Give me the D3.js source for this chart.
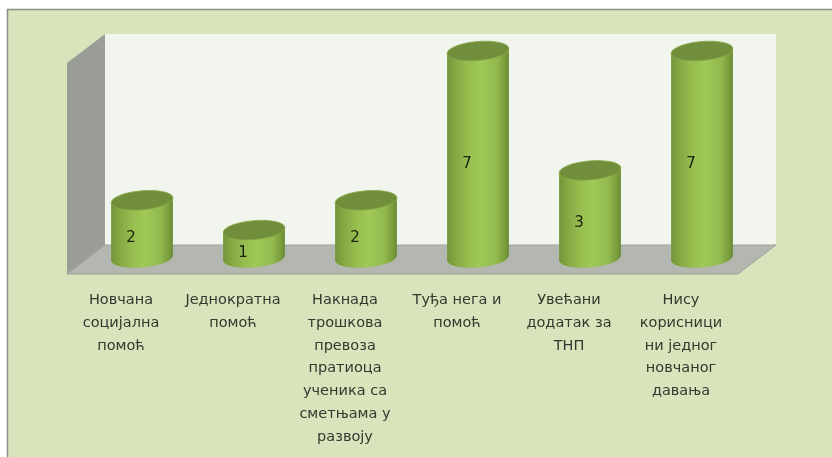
<!DOCTYPE html>
<html>
<head>
<meta charset="utf-8">
<script src="https://d3js.org/d3.v7.min.js"></script>
<style>
html, body { margin: 0; padding: 0; background: #fff; }
svg { display: block; }
</style>
</head>
<body>
<div id="chart"></div>
<script>
// Values
const categories = ['novcana', 'jednokratna', 'naknada', 'tudja', 'uvecani', 'nisu'];
const values = [2, 1, 2, 7, 3, 7];
const tickLines = [
    ['Новчана', 'социјална', 'помоћ'],
    ['Једнократна', 'помоћ'],
    ['Накнада', 'трошкова', 'превоза', 'пратиоца', 'ученика са', 'сметњама у', 'развоју'],
    ['Туђа нега и', 'помоћ'],
    ['Увећани', 'додатак за', 'ТНП'],
    ['Нису', 'корисници', 'ни једног', 'новчаног', 'давања']
];

const width = 832;
const height = 457;
const fontFamily = '"DejaVu Sans", Verdana, sans-serif';

const svg = d3.select('#chart')
    .append('svg')
    .attr('width', width)
    .attr('height', height);

const defs = svg.append('defs');

const grad = defs.append('linearGradient')
    .attr('id', 'cyl')
    .attr('x1', '0%').attr('x2', '100%')
    .attr('y1', '0%').attr('y2', '0%');
[[0, '#72953a'], [0.12, '#82a642'], [0.32, '#95bc4e'], [0.55, '#a0c957'], [0.8, '#92b94d'], [0.94, '#7a9c3c'], [1, '#688a33']]
    .forEach(s => grad.append('stop').attr('offset', s[0]).attr('stop-color', s[1]));

// the reference is a slightly soft scan
const blur = defs.append('filter').attr('id', 'soft');
blur.append('feGaussianBlur').attr('stdDeviation', 0.6);

const blurText = defs.append('filter').attr('id', 'softText');
blurText.append('feGaussianBlur').attr('stdDeviation', 0.3);

// Panel background and frame
svg.append('rect')
    .attr('x', 8).attr('y', 10)
    .attr('width', width - 8).attr('height', height - 10)
    .attr('fill', '#d7e4bc');
svg.append('path')
    .attr('d', `M7.5,${height}V9.5H${width}`)
    .attr('fill', 'none')
    .attr('stroke', '#8c8f88')
    .attr('stroke-width', 1.5);

const x = d3.scaleBand()
    .domain(categories)
    .range([86, 758]);

const y = d3.scaleLinear()
    .domain([0, 7])
    .range([260, 51]);

const depth = { dx: 38, dy: 29 };
const wall = { left: 105, right: 776, top: 34, bottom: 245 };

const scene = svg.append('g').attr('filter', 'url(#soft)');

// Back wall
scene.append('rect')
    .attr('x', wall.left).attr('y', wall.top)
    .attr('width', wall.right - wall.left)
    .attr('height', wall.bottom - wall.top)
    .attr('fill', '#f1f5ee');

// Side wall
scene.append('path')
    .attr('d', `M${wall.left},${wall.top}L${wall.left - depth.dx},${wall.top + depth.dy}V${wall.bottom + depth.dy}L${wall.left},${wall.bottom}Z`)
    .attr('fill', '#9b9d97');

// Floor
scene.append('path')
    .attr('d', `M${wall.left},${wall.bottom}H${wall.right}L${wall.right - depth.dx},${wall.bottom + depth.dy}H${wall.left - depth.dx}Z`)
    .attr('fill', '#b4b6b0')
    .attr('stroke', '#a0a29c')
    .attr('stroke-width', 1);

// Cylinders
const rx = 31;
const ry = 9.5;
const tilt = -5;
const baseLift = 2; // the base ellipse sits a little above y(0)
const dxTilt = rx * Math.cos(tilt * Math.PI / 180);
const dyTilt = rx * Math.sin(tilt * Math.PI / 180);

const bars = scene.selectAll('.bar')
    .data(values)
    .enter()
    .append('g')
    .attr('class', 'bar');

const cx = (d, i) => x(categories[i]) + x.bandwidth() / 2;

bars.append('path')
    .attr('d', (d, i) => {
        const c = cx(d, i);
        const base = y(0) - baseLift;
        return `M${c - dxTilt},${y(d) - dyTilt}` +
            `L${c - dxTilt},${base - dyTilt}` +
            `A${rx},${ry},${tilt},0,0,${c + dxTilt},${base + dyTilt}` +
            `L${c + dxTilt},${y(d) + dyTilt}Z`;
    })
    .attr('fill', 'url(#cyl)');

bars.append('ellipse')
    .attr('cx', cx)
    .attr('cy', d => y(d))
    .attr('rx', rx)
    .attr('ry', ry)
    .attr('transform', (d, i) => `rotate(${tilt},${cx(d, i)},${y(d)})`)
    .attr('fill', '#708e3a')
    .attr('stroke', '#8aab48')
    .attr('stroke-width', 0.8);

// Value labels
svg.append('g')
    .attr('filter', 'url(#softText)')
    .selectAll('text')
    .data(values)
    .enter()
    .append('text')
    .attr('x', (d, i) => cx(d, i) - 11)
    .attr('y', d => (y(d) + y(0)) / 2 + 7)
    .attr('dy', '0.35em')
    .attr('text-anchor', 'middle')
    .style('font-family', fontFamily)
    .style('font-size', '15px')
    .style('fill', '#1c2210')
    .text(d => d);

// Category labels, wrapped by hand as in the picture
const axis = svg.append('g')
    .attr('transform', 'translate(-21,283)')
    .attr('filter', 'url(#softText)')
    .call(d3.axisBottom(x).tickSize(0).tickPadding(0).tickFormat(''));

axis.select('.domain').remove();

axis.selectAll('.tick text')
    .attr('y', 0)
    .attr('dy', null)
    .style('font-family', fontFamily)
    .style('font-size', '14.5px')
    .style('fill', '#35382f')
    .each(function (d, i) {
        const text = d3.select(this);
        tickLines[i].forEach((line, k) => {
            text.append('tspan')
                .attr('x', 0)
                .attr('y', 21 + k * 22.8)
                .text(line);
        });
    });
</script>
</body>
</html>
